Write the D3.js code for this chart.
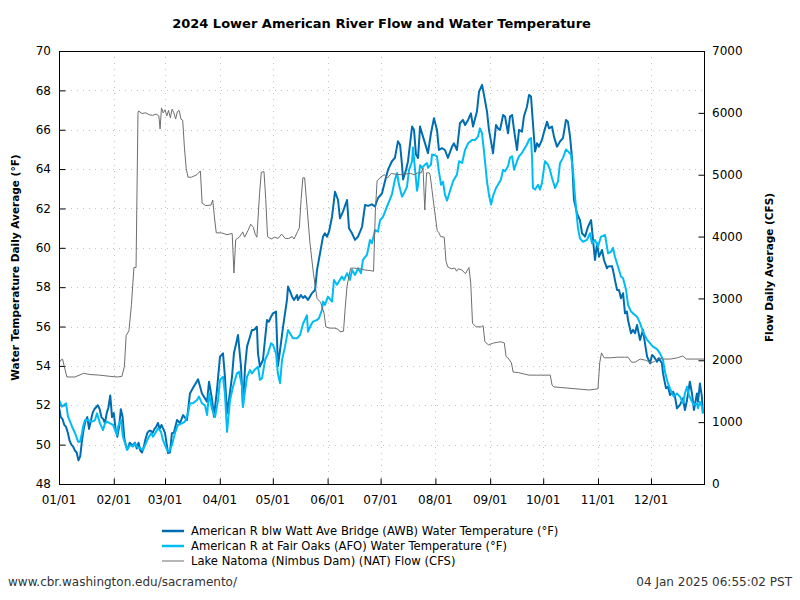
<!DOCTYPE html>
<html>
<head>
<meta charset="utf-8">
<script src="https://cdn.jsdelivr.net/npm/d3@7"></script>
<style>
  html, body { margin: 0; padding: 0; background: #fff; }
  svg { display: block; font-family: "DejaVu Sans", sans-serif; }
</style>
</head>
<body>
<svg id="chart" width="800" height="600"></svg>
<script>
// ---- data (day offset from 2024-01-01, value) ----
const titleText = "2024 Lower American River Flow and Water Temperature";
const leftLabel = "Water Temperature Daily Average (°F)";
const rightLabel = "Flow Daily Average (CFS)";
const seriesNames = [
  "American R blw Watt Ave Bridge (AWB) Water Temperature (°F)",
  "American R at Fair Oaks (AFO) Water Temperature (°F)",
  "Lake Natoma (Nimbus Dam) (NAT) Flow (CFS)"
];
const tempTicks = [48, 50, 52, 54, 56, 58, 60, 62, 64, 66, 68, 70];
const flowTicks = [0, 1000, 2000, 3000, 4000, 5000, 6000, 7000];
const footerLeft = "www.cbr.washington.edu/sacramento/";
const footerRight = "04 Jan 2025 06:55:02 PST";

const awbTemp = [[0,51.9],[1,51.4],[2,51.3],[3,51.0],[4,50.9],[5,50.6],[6,50.2],[7,50.0],[8,49.9],[9,49.7],[10,49.6],[11,49.2],[12,49.4],[13,50.2],[14,50.8],[15,51.2],[16,51.4],[17,50.8],[18,51.2],[19,51.6],[20,51.8],[21,51.9],[22,52.0],[23,51.8],[24,51.4],[25,51.3],[26,51.1],[27,51.6],[28,51.9],[29,52.5],[30,51.4],[31,51.6],[32,50.8],[33,50.4],[34,50.9],[35,51.8],[36,51.4],[37,50.3],[38,49.9],[39,49.8],[40,50.1],[41,50.0],[42,50.0],[43,50.1],[44,49.8],[45,50.1],[46,49.7],[47,49.6],[48,49.9],[49,50.3],[50,50.6],[51,50.7],[52,50.7],[53,50.6],[54,50.8],[55,50.9],[56,51.1],[57,50.8],[58,51.0],[59,50.8],[60,50.58],[61.7,49.57],[62.8,49.6],[63.9,50.58],[65,50.6],[66.8,51.25],[68.5,51.1],[70.2,51.5],[72.4,51.25],[74.1,52.6],[75.8,52.88],[78.7,53.32],[80.9,52.6],[82.6,52.35],[83.8,52.18],[84.9,53.2],[86.6,52.3],[87.7,51.42],[89.4,52.78],[91.1,54.47],[92.8,54.64],[93.9,53.45],[95.1,51.59],[96.2,52.27],[97.9,53.45],[99,54.64],[100.7,55.32],[101.3,55.57],[103,53.96],[104.1,51.93],[105.3,53.96],[106.4,54.98],[108.1,55.49],[109.2,55.83],[110.3,55.83],[112,55.99],[112.6,54.64],[113.7,53.96],[115.4,54.3],[117.7,56.33],[118.8,56.25],[120,56.5],[121.1,56.67],[122.8,56.76],[123.9,54.0],[125.1,54.8],[126.8,55.99],[129,57.35],[129.6,58.03],[130.7,57.8],[131.9,57.52],[133,57.35],[134.7,57.6],[135.2,57.35],[136.9,57.6],[138.1,57.45],[139.2,57.55],[140.9,57.35],[143.2,57.7],[144.9,57.86],[146,58.87],[147.7,59.72],[149.4,60.57],[150.5,60.74],[151.7,60.57],[152.8,60.82],[154.5,61.58],[156.2,62.85],[157.9,62.43],[159,61.5],[160.7,61.84],[163,62.43],[164.1,60.99],[165.8,60.74],[167.5,60.4],[169.2,60.57],[171.5,61.07],[173.2,62.18],[174.9,62.13],[177.1,62.21],[178.8,62.1],[180.5,62.52],[182.8,62.77],[184.5,63.4],[186.2,63.97],[188.4,64.4],[190.1,64.57],[191.8,65.41],[193,65.24],[194.1,64.23],[194.7,63.47],[196.4,63.97],[197.5,64.4],[199.8,66.16],[200.9,65.99],[202,64.74],[203.2,64.57],[204.3,66.16],[205.4,65.82],[207.1,65.32],[208.8,64.81],[210.5,65.82],[212.2,66.58],[213.9,65.99],[215,64.97],[216.7,65.06],[218.4,64.97],[220.1,64.57],[222.4,65.14],[223.5,65.31],[225.2,64.97],[226.9,66.33],[228.6,66.5],[229.8,66.24],[231.5,66.5],[233.1,66.83],[234.3,66.16],[236.5,66.92],[237.7,67.94],[239.4,68.28],[240.5,67.77],[242.2,66.92],[243.3,66.0],[245,65.14],[245.6,64.8],[247.3,66.24],[248.4,66.07],[249.6,65.99],[251.3,66.75],[252.4,66.67],[254.1,65.82],[255.2,66.67],[256.4,66.75],[257.5,65.99],[259.2,64.97],[260.3,65.99],[262,65.9],[263.1,66.67],[264.8,67.17],[266,67.77],[267.1,67.69],[268.2,66.33],[269.4,64.89],[270.5,65.31],[271.6,65.14],[273.3,65.48],[274.5,65.9],[276.2,66.41],[277.3,66.07],[279,66.16],[280.1,65.65],[281.8,65.14],[283.5,65.4],[285.2,65.57],[286.9,66.5],[288,66.41],[289.2,65.65],[290.3,64.57],[291.4,62.45],[293.1,61.75],[294.8,61.41],[296,60.74],[297.7,60.57],[299.4,61.08],[301.1,61.41],[302.2,60.4],[303.3,59.38],[304.5,60.23],[305.6,59.55],[307.3,59.89],[308.4,59.38],[310.1,58.96],[310.7,59.05],[312.9,59.07],[313.5,58.87],[314.6,58.37],[315.8,57.86],[316.9,57.86],[318,57.44],[319.2,57.69],[320.3,56.67],[321.4,56.76],[322,56.33],[323.7,55.66],[324.8,55.83],[326,55.66],[327.1,56.08],[328.8,55.32],[330.5,55.83],[331.6,55.15],[332.8,54.47],[334.5,54.13],[335.6,54.55],[336.7,54.47],[338.4,54.21],[339.5,54.38],[341.2,54.13],[341.8,53.62],[343.5,52.86],[344.6,52.94],[345.8,52.52],[347.5,52.69],[348.6,52.43],[349.7,51.85],[351.4,52.02],[353.1,52.35],[354.2,51.76],[355.4,52.27],[357,53.2],[358.2,52.6],[359.3,51.76],[361,52.6],[361.6,52.18],[362.7,53.11],[363.8,52.44],[364.4,51.59]];

const afoTemp = [[0,52.27],[1.7,51.93],[4,52.1],[5.1,51.42],[7.4,50.91],[9.1,50.58],[10.8,50.15],[11.9,50.15],[13,50.58],[13.6,50.91],[14.7,51.25],[16.4,51.25],[18.7,51.17],[20.4,51.25],[21.5,51.59],[23.2,51.08],[24.9,50.74],[26,51.08],[27.2,51.17],[28.9,51.08],[30.6,51.0],[31.7,50.74],[32.8,50.49],[33.4,50.91],[35.1,51.25],[36.2,50.4],[37.4,50.07],[38.5,49.73],[40.2,49.98],[41.9,49.9],[43,50.07],[44.1,49.9],[45.8,49.81],[47.5,49.73],[48.7,49.98],[50.4,50.32],[52.1,50.58],[53.2,50.4],[54.9,50.66],[56,50.83],[57.7,50.66],[58.8,50.24],[61.1,49.73],[62.2,49.64],[63.9,49.98],[65.6,50.58],[67.3,51.0],[69.6,51.08],[71.3,51.17],[73,51.59],[74.1,52.1],[75.8,52.1],[78.1,52.27],[79.2,52.44],[80.9,52.1],[82.6,52.0],[83.8,51.5],[84.9,52.6],[86.6,51.8],[88.3,51.4],[90,52.27],[91.1,53.29],[92.8,53.45],[93.9,52.6],[95.1,50.65],[96.8,52.27],[98.5,52.95],[100.7,53.62],[101.9,53.7],[103.6,52.95],[104.1,51.93],[106.4,53.45],[108.1,53.79],[109.2,53.62],[110.9,53.82],[112.6,53.96],[113.7,53.29],[114.9,53.37],[116.6,54.3],[118.3,54.64],[120,55.15],[121.1,55.07],[122.8,54.64],[123.9,53.6],[125.1,53.12],[126.2,54.3],[127.9,54.98],[129.6,55.83],[130.7,55.66],[132.4,55.4],[134.7,55.4],[136.4,55.57],[138.1,56.14],[140.3,56.57],[140.9,55.74],[142.6,56.08],[143.7,56.25],[146,56.33],[147.1,56.42],[148.8,56.84],[149.4,57.27],[150.5,57.1],[152.2,57.52],[154.5,57.27],[155.6,58.37],[157.3,58.12],[158.4,58.29],[160.1,58.54],[161.3,58.37],[163,58.71],[164.7,58.37],[165.8,58.88],[167.5,58.62],[169.2,58.96],[170.9,58.71],[172,59.39],[174.3,59.65],[176,60.4],[177.1,60.23],[178.8,60.9],[180.5,60.82],[181.7,61.41],[183.4,61.58],[185.6,62.09],[188.4,62.71],[190.1,63.47],[191.3,63.8],[192.4,63.2],[194.1,62.6],[195.2,62.77],[196.9,63.1],[198.1,63.96],[199.8,64.4],[200.3,65.1],[201.5,63.96],[202.6,62.9],[203.2,63.2],[204.3,64.2],[205.4,64.06],[207.1,64.23],[208.3,64.3],[208.8,64.06],[210.5,64.23],[211.1,64.74],[212.8,64.7],[213.9,64.65],[215,63.87],[216.2,63.2],[217.3,63.36],[218.4,62.7],[219.6,62.4],[221.3,62.9],[223,63.38],[225.2,63.72],[226.4,64.4],[228.1,64.31],[229.8,64.98],[231.5,65.31],[233.7,65.48],[235.4,65.48],[237.1,65.65],[238.2,66.07],[239.4,65.82],[240.5,64.9],[242.2,63.38],[243.3,62.7],[244.5,62.2],[245.6,62.62],[247.3,63.04],[248.4,63.2],[250.1,63.47],[251.3,63.97],[252.4,63.89],[254.1,64.14],[255.2,64.57],[256.4,64.65],[257.5,63.97],[259.2,64.4],[260.3,64.65],[262,64.82],[263.1,64.99],[264.8,65.25],[266,65.5],[267.1,65.58],[267.7,64.57],[268.2,63.04],[269.4,62.96],[271.1,63.2],[272.2,62.96],[273.3,63.3],[275,64.4],[276.7,64.23],[277.8,63.97],[279,63.55],[280.7,63.04],[282.4,63.38],[283.5,64.3],[285.2,64.57],[286.9,65.0],[288,64.9],[289.7,64.74],[290.9,63.9],[292,62.6],[293.7,60.99],[294.8,60.48],[296.5,60.31],[298.8,60.4],[300.5,60.74],[301.6,60.23],[303.3,60.4],[305,60.06],[306.7,60.57],[307.8,60.6],[309,60.65],[310.1,60.06],[310.7,59.72],[312.4,59.8],[313.5,60.0],[314.6,59.55],[316.3,59.05],[318,58.54],[319.2,58.45],[320.9,57.86],[322,57.1],[323.7,56.76],[324.8,56.67],[327.1,56.5],[328.8,56.17],[330.5,55.74],[332.8,55.32],[334.5,55.15],[336.1,54.98],[338.4,54.85],[340.1,54.64],[341.8,54.3],[342.9,53.7],[344.6,53.11],[346.9,52.6],[348,52.44],[349.7,52.6],[351.4,52.44],[353.1,52.1],[354.2,52.6],[355.4,52.94],[356.5,52.52],[358.2,52.18],[359.3,52.02],[361,52.1],[361.6,51.85],[362.7,52.18],[363.8,51.93],[364.4,51.59]];

const natFlow = [[0,1956],[1,2000],[2,2020],[3.4,1850],[4.5,1730],[9,1730],[14,1790],[17.5,1770],[23,1760],[29,1740],[33,1730],[35.6,1740],[37,1900],[38,2400],[39.6,2480],[41,2900],[42.4,3500],[43.6,3500],[44.7,6000],[45,6030],[47,5990],[49,6000],[51,5970],[53,5960],[55,5980],[56.5,5950],[57.2,5740],[58,6080],[59,6000],[60,6050],[61,5950],[62,6040],[63,5920],[64,6060],[65,6000],[66,5900],[67,6020],[68,6040],[69,5900],[70,5880],[71,5430],[72,5100],[73,4960],[75,4960],[78,5000],[80,5060],[81,4540],[83,4500],[86,4510],[87,4590],[88,4300],[89,4060],[92,4060],[95,4030],[98,4050],[99,3410],[100,3950],[102,3990],[104,4075],[105,3990],[107,4100],[108.5,4200],[110,4150],[111,4040],[112,3990],[113.5,4700],[114.5,5040],[116,5050],[117,4600],[118,4000],[120,3960],[122,3990],[124,3970],[126,4040],[128,3970],[130,3970],[132,4000],[133,3960],[135,4080],[136,4140],[137,4600],[138,4950],[139,4950],[140.5,4430],[142,3900],[144,3400],[146,3000],[148,2940],[150,2760],[151,2540],[153,2520],[156,2520],[158,2500],[159,2460],[161,2470],[162,2860],[163,3200],[165,3490],[167,3490],[170,3480],[173,3460],[176,3450],[178,3440],[179,4400],[180,4900],[182,4960],[184,5000],[186,4950],[188,5020],[190,5010],[193,5000],[196,5010],[199,5020],[201,5000],[203,5030],[205,5030],[206,5110],[207,4430],[208,5030],[209.5,5030],[210,5000],[212,4540],[214,4100],[215,4060],[216,4000],[218,3990],[219,3600],[220,3510],[222,3480],[224,3490],[225,3440],[226,3480],[228,3460],[230,3400],[232,3500],[233,3250],[234,2600],[236,2540],[239,2540],[240,2560],[241,2300],[243,2250],[246,2280],[248,2290],[250,2300],[252,2280],[253,2060],[254,2040],[256,1960],[257,1810],[260,1800],[263,1780],[266,1760],[270,1760],[274,1760],[278,1760],[279,1600],[280,1570],[284,1560],[288,1550],[292,1540],[296,1530],[300,1520],[303,1530],[305,1540],[306,1960],[307,2120],[308.5,2040],[312,2040],[316,2050],[320,2050],[322,2050],[324,1970],[326,1970],[329,2020],[332,2000],[335,1960],[337,1980],[339,2040],[342,2020],[346,2020],[350,2040],[353,2070],[355,2020],[360,2020],[365,2020]];

// ---- layout ----
const W = 800, H = 600;
const L = 59, R = 704, T = 51, B = 484;
const t0 = Date.UTC(2024, 0, 1);
const DAY = 864e5;
const toDate = d => new Date(t0 + d * DAY);

const svg = d3.select("#chart");

const x = d3.scaleUtc().domain([new Date(t0), new Date(Date.UTC(2024, 11, 31))]).range([L, R]);
const yT = d3.scaleLinear().domain([48, 70]).range([B, T]);
const yF = d3.scaleLinear().domain([0, 7000]).range([B, T]);
const monthTicks = d3.utcMonth.range(new Date(t0), new Date(Date.UTC(2024, 11, 2)));

// grid
const grid = svg.append("g").attr("stroke", "#c4c4c4").attr("stroke-width", 1).attr("stroke-dasharray", "1,5");
grid.selectAll("line.h").data(tempTicks.slice(1, -1)).join("line")
  .attr("x1", L).attr("x2", R)
  .attr("y1", d => Math.round(yT(d)) + 0.5).attr("y2", d => Math.round(yT(d)) + 0.5);
grid.selectAll("line.v").data(monthTicks.slice(1)).join("line")
  .attr("y1", T).attr("y2", B)
  .attr("x1", d => Math.round(x(d)) + 0.5).attr("x2", d => Math.round(x(d)) + 0.5);

// axes (inward ticks)
const fmt = d3.utcFormat("%m/%d");
const axL = svg.append("g").attr("transform", `translate(${L + 0.5},0)`)
  .call(d3.axisRight(yT).tickValues(tempTicks).tickSize(6).tickFormat(""));
const axR = svg.append("g").attr("transform", `translate(${R + 0.5},0)`)
  .call(d3.axisLeft(yF).tickValues(flowTicks).tickSize(6).tickFormat(""));
const axB = svg.append("g").attr("transform", `translate(0,${B + 0.5})`)
  .call(d3.axisTop(x).tickValues(monthTicks).tickSize(6).tickFormat(""));
[axL, axR, axB].forEach(a => { a.select(".domain").remove(); a.selectAll("line").attr("stroke", "#000"); });

// tick labels
svg.append("g").selectAll("text").data(tempTicks).join("text")
  .attr("x", 51).attr("y", d => yT(d)).attr("dy", "0.35em")
  .attr("text-anchor", "end").attr("font-size", 12).text(d => d);
svg.append("g").selectAll("text").data(flowTicks).join("text")
  .attr("x", 712).attr("y", d => yF(d)).attr("dy", "0.35em")
  .attr("text-anchor", "start").attr("font-size", 12).text(d => d);
svg.append("g").selectAll("text").data(monthTicks).join("text")
  .attr("x", d => x(d)).attr("y", 504)
  .attr("text-anchor", "middle").attr("font-size", 12).text(d => fmt(d));

// lines
const clip = svg.append("clipPath").attr("id", "clip").append("rect")
  .attr("x", L).attr("y", T).attr("width", R - L).attr("height", B - T);
const lineT = d3.line().x(d => x(toDate(d[0]))).y(d => yT(d[1]));
const lineF = d3.line().x(d => x(toDate(d[0]))).y(d => yF(d[1]));
const colors = ["#006db0", "#00bcf5", "#6e6e6e"];
const widths = [2, 2, 1];
const g = svg.append("g").attr("clip-path", "url(#clip)").attr("fill", "none").attr("stroke-linejoin", "round");
g.append("path").datum(awbTemp).attr("d", lineT).attr("stroke", colors[0]).attr("stroke-width", widths[0]);
g.append("path").datum(afoTemp).attr("d", lineT).attr("stroke", colors[1]).attr("stroke-width", widths[1]);
g.append("path").datum(natFlow).attr("d", lineF).attr("stroke", colors[2]).attr("stroke-width", widths[2]);

// frame
svg.append("rect").attr("x", L + 0.5).attr("y", T + 0.5).attr("width", R - L).attr("height", B - T)
  .attr("fill", "none").attr("stroke", "#000").attr("stroke-width", 1);

// title
svg.append("text").attr("x", (L + R) / 2).attr("y", 28).attr("text-anchor", "middle")
  .attr("font-size", 13).attr("font-weight", "bold").text(titleText);

// axis labels
svg.append("text").attr("transform", `translate(19,${(T + B) / 2}) rotate(-90)`)
  .attr("text-anchor", "middle").attr("font-size", 10.5).attr("font-weight", "bold").text(leftLabel);
svg.append("text").attr("transform", `translate(773,${(T + B) / 2}) rotate(-90)`)
  .attr("text-anchor", "middle").attr("font-size", 10.5).attr("font-weight", "bold").text(rightLabel);

// legend
const legY = [531, 546, 561];
const leg = svg.append("g");
seriesNames.forEach((name, i) => {
  leg.append("line").attr("x1", 162).attr("x2", 184).attr("y1", legY[i]).attr("y2", legY[i])
    .attr("stroke", colors[i]).attr("stroke-width", widths[i] === 2 ? 2.5 : 1);
  leg.append("text").attr("x", 191).attr("y", legY[i]).attr("dy", "0.35em")
    .attr("font-size", 11.6).text(name);
});

// footer
svg.append("text").attr("x", 8).attr("y", 582).attr("dy", "0.35em").attr("font-size", 12)
  .attr("fill", "#333").text(footerLeft);
svg.append("text").attr("x", 792).attr("y", 582).attr("dy", "0.35em").attr("font-size", 12)
  .attr("text-anchor", "end").attr("fill", "#333").text(footerRight);
</script>
</body>
</html>
